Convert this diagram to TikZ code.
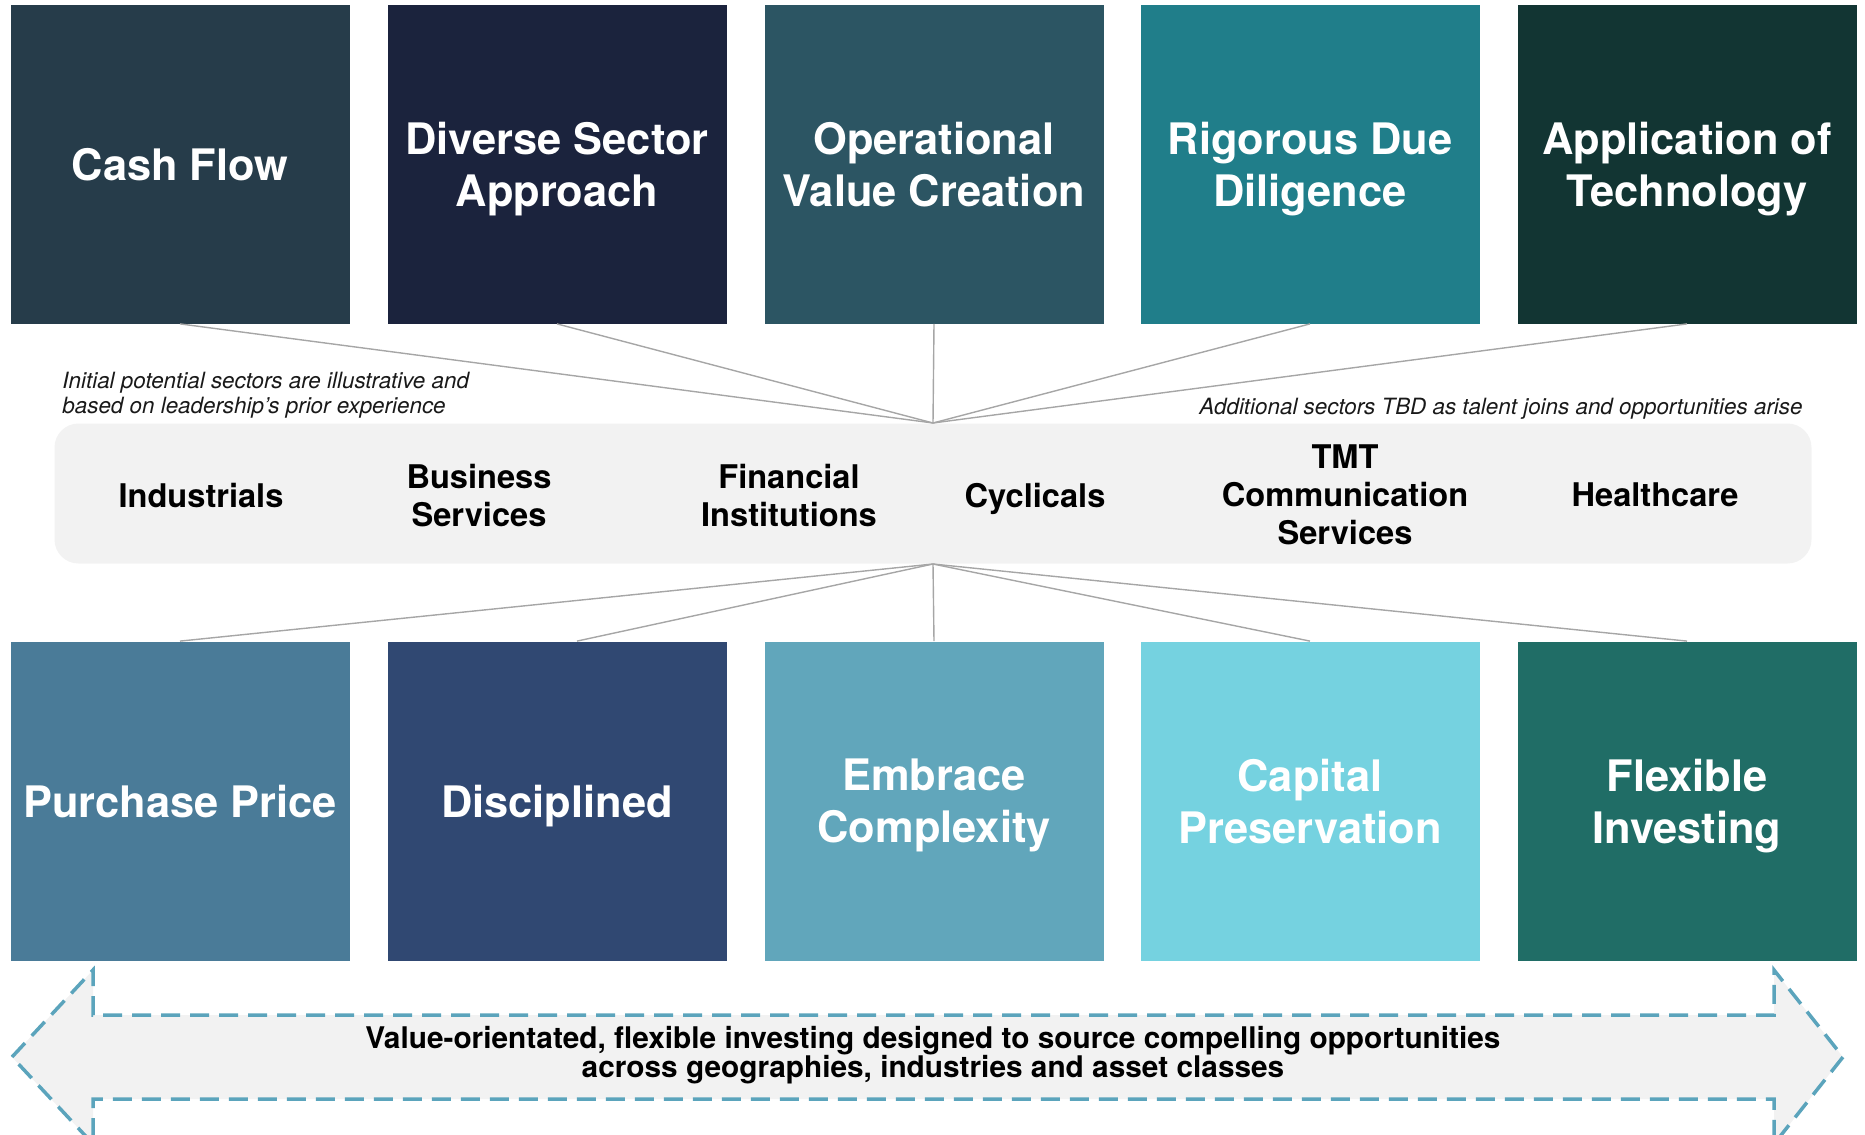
\documentclass[tikz,border=0pt]{standalone}
\usepackage{fontspec}
\setmainfont{TeX Gyre Heros}
\definecolor{ca}{HTML}{263C4A}
\definecolor{cb}{HTML}{1B233D}
\definecolor{cc}{HTML}{2C5563}
\definecolor{cd}{HTML}{207E8A}
\definecolor{ce}{HTML}{123533}
\definecolor{da}{HTML}{4A7B98}
\definecolor{db}{HTML}{304872}
\definecolor{dc}{HTML}{61A6BB}
\definecolor{dd}{HTML}{75D2E0}
\definecolor{de}{HTML}{206D66}
\definecolor{bandgray}{HTML}{F2F2F2}
\definecolor{linegray}{HTML}{A6A6A6}
\definecolor{arrowblue}{HTML}{5BA4BC}
\begin{document}
\begin{tikzpicture}[x=0.5pt,y=-0.5pt,
  tile/.style={minimum width=169.5pt,minimum height=159.5pt,inner sep=0pt,align=center,
    text depth=0pt,text=white,font=\fontsize{21.7}{26}\selectfont\bfseries},
  sector/.style={align=center,text depth=0pt,text=black,font=\fontsize{16.3}{19}\selectfont\bfseries},
  note/.style={font=\fontsize{11.2}{12.5}\selectfont\itshape,text=black!90,inner sep=0pt},
  spoke/.style={draw=linegray,line width=0.7pt}]
\useasboundingbox (0,0) rectangle (1865,1135);
% band
\node[fill=bandgray,rounded corners=12pt,minimum width=878.5pt,minimum height=70pt,inner sep=0pt] (band) at (933,493.5) {};
\coordinate (hubt) at (933,423);
\coordinate (hubb) at (933,564);
% top tiles
\node[tile,fill=ca] (t1) at (180,164) {Cash Flow};
\node[tile,fill=cb] (t2) at (557,164) {Diverse Sector\\Approach};
\node[tile,fill=cc] (t3) at (934,164) {Operational\\Value Creation};
\node[tile,fill=cd] (t4) at (1310,164) {Rigorous Due\\Diligence};
\node[tile,fill=ce] (t5) at (1687,164) {Application of\\Technology};
% bottom tiles
\node[tile,fill=da] (b1) at (180,801) {Purchase Price};
\node[tile,fill=db] (b2) at (557,801) {Disciplined};
\node[tile,fill=dc] (b3) at (934,801) {Embrace\\Complexity};
\node[tile,fill=dd] (b4) at (1310,801) {Capital\\Preservation};
\node[tile,fill=de] (b5) at (1687,801) {Flexible\\Investing};
% spokes
\foreach \n in {t1,t2,t3,t4,t5} \draw[spoke] (\n.south) -- (hubt);
\draw[spoke] (hubb) -- (b1.north);
\draw[spoke] (hubb) -- ([xshift=10pt]b2.north);
\draw[spoke] (hubb) -- (b3.north);
\draw[spoke] (hubb) -- (b4.north);
\draw[spoke] (hubb) -- (b5.north);
% notes
\node[note,anchor=west,align=left] (n1) at (62,395.5) {Initial potential sectors are illustrative and\\based on leadership’s prior experience};
\node[note,anchor=east,align=right] (n2) at (1803,408.5) {Additional sectors TBD as talent joins and opportunities arise};
% sectors
\node[sector] (s1) at (201,495) {Industrials};
\node[sector] (s2) at (479,495) {Business\\Services};
\node[sector] (s3) at (789,495) {Financial\\Institutions};
\node[sector] (s4) at (1035,495) {Cyclicals};
\node[sector] (s5) at (1345,495) {TMT\\Communication\\Services};
\node[sector] (s6) at (1655,495) {Healthcare};
% arrow
\draw[fill=bandgray,draw=arrowblue,line width=1.75pt,dash pattern=on 9.5pt off 5pt]
  (12,1057) -- (93,970) -- (93,1015) -- (1774,1015) -- (1774,970) -- (1843,1057)
  -- (1774,1144) -- (1774,1099) -- (93,1099) -- (93,1144) -- cycle;
\node[align=center,font=\fontsize{14.9}{14.5}\selectfont\bfseries,text=black] (at) at (933,1055)
  {Value-orientated, flexible investing designed to source compelling opportunities\\across geographies, industries and asset classes};
\end{tikzpicture}
\end{document}
